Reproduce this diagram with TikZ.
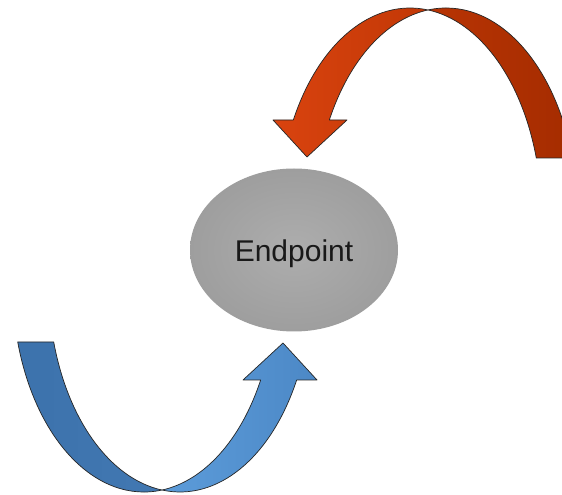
\documentclass[tikz,border=0pt]{standalone}
\usepackage{fontspec}
\setmainfont{Liberation Sans}
\usetikzlibrary{shapes.geometric}

\definecolor{redlight}{HTML}{D9430F}
\definecolor{redmid}{HTML}{C23806}
\definecolor{reddark}{HTML}{A52C00}
\definecolor{redback}{HTML}{B83404}
\definecolor{bluelight}{HTML}{5C9CDA}
\definecolor{bluemid}{HTML}{4C88C6}
\definecolor{bluedark}{HTML}{4278B2}
\definecolor{blueback}{HTML}{3C72AC}
\definecolor{disc}{HTML}{A9A9A9}
\definecolor{discrim}{HTML}{9E9E9E}

\tikzset{
  bandline/.style={draw=black!85, line width=0.7pt, line join=round},
  redfront/.style={bandline, left color=redlight, right color=redmid},
  redrear/.style={bandline, left color=redback, right color=reddark},
  bluefront/.style={bandline, left color=bluelight, right color=bluemid},
  bluerear/.style={bandline, left color=blueback, right color=bluedark},
  endpoint/.style={ellipse, minimum width=208pt, minimum height=163pt,
    inner sep=0pt, shading=radial, inner color=disc!95!white,
    outer color=discrim, text=black!90,
    font=\fontsize{30}{30}\selectfont, text height=30pt, text depth=7pt}
}

% A ribbon-style curved arrow built from two equal ellipses shifted
% sideways; #1 styles the limb carrying the head, #2 the tail limb.
\newcommand{\curvedband}[2]{%
  \path[#2] (428,485.04)
    arc[start angle=97.87, end angle=16.19, x radius=131.5, y radius=208]
    -- (536.28,337)
    arc[start angle=16.19, end angle=82.13, x radius=131.5, y radius=208]
    -- cycle;
  \path[#1] (293.34,375)
    arc[start angle=152.51, end angle=82.13, x radius=131.5, y radius=208]
    arc[start angle=97.87, end angle=152.51, x radius=131.5, y radius=208]
    -- (347,375) -- (307,338) -- (273,375) -- cycle;
}

\begin{document}
\begin{tikzpicture}[x=1pt, y=1pt]
  \useasboundingbox (0,0) rectangle (562,495);
  \clip (0,0) rectangle (562,495);
  \fill[white] (0,0) rectangle (562,495);

  % central endpoint
  \node[endpoint] (ep) at (294,245) {Endpoint};

  % upper (red) arrow coming down onto the endpoint
  \curvedband{redfront}{redrear}

  % lower (blue) arrow rising towards the endpoint
  \begin{scope}[rotate around={180:(295,245)}]
    \curvedband{bluefront}{bluerear}
  \end{scope}
\end{tikzpicture}
\end{document}
